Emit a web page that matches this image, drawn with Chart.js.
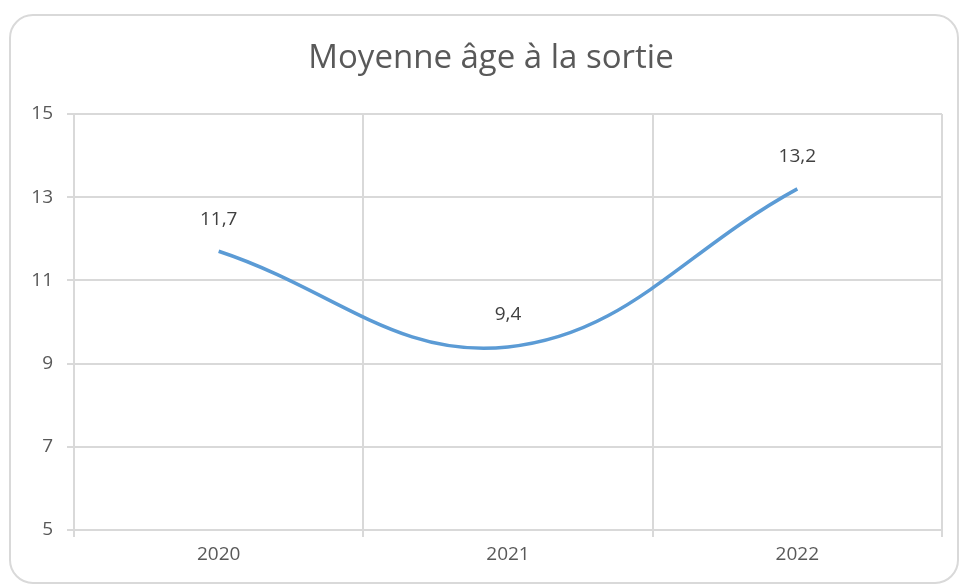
<!DOCTYPE html>
<html>
<head>
<meta charset="utf-8">
<script src="https://cdn.jsdelivr.net/npm/chart.js@4"></script>
<style>
  html, body { margin: 0; padding: 0; background: #fff; }
  #wrap { position: relative; width: 960px; height: 585px; overflow: hidden; }
  #frame {
    position: absolute; left: 9px; top: 14px; width: 946px; height: 566px;
    border: 2px solid #d9d9d9; border-radius: 24px;
  }
  canvas { position: absolute; left: 0; top: 0; }
</style>
</head>
<body>
<div id="wrap">
  <div id="frame"></div>
  <canvas id="chart" width="960" height="585"></canvas>
</div>
<script>
const years = ['2020', '2021', '2022'];
const ageMoyen = [11.7, 9.4, 13.2];
const yTicks = [5, 7, 9, 11, 13, 15];
const chartTitle = 'Moyenne âge à la sortie';

const fontFamily = '"Open Sans", sans-serif';
const gridColor = '#d9d9d9';
const textColor = '#595959';

// value above each point (French decimal comma) + title centred on the frame
const valueLabels = {
    id: 'valueLabels',
    afterDatasetsDraw(chart) {
        const ctx = chart.ctx;
        const meta = chart.getDatasetMeta(0);
        ctx.save();
        ctx.font = '19px ' + fontFamily;
        ctx.fillStyle = '#404040';
        ctx.textAlign = 'center';
        ctx.textBaseline = 'middle';
        meta.data.forEach((pt, i) => {
            const txt = String(ageMoyen[i]).replace('.', ',');
            ctx.fillText(txt, pt.x, pt.y - 32);
        });
        ctx.font = '33px ' + fontFamily;
        ctx.fillStyle = textColor;
        ctx.fillText(chartTitle, 491, 59);
        ctx.restore();
    }
};

new Chart(document.getElementById('chart'), {
    type: 'line',
    data: {
        labels: years,
        datasets: [{
            data: ageMoyen,
            borderColor: '#5b9bd5',
            borderWidth: 3.5,
            tension: 0.4,
            pointRadius: 0,
            fill: false
        }]
    },
    options: {
        responsive: false,
        animation: false,
        layout: { padding: { left: 0, right: 18, top: 114, bottom: 0 } },
        plugins: {
            legend: { display: false },
            tooltip: { enabled: false },
            title: { display: false }
        },
        scales: {
            x: {
                offset: true,
                grid: { offset: true, color: gridColor, lineWidth: 2, tickLength: 7 },
                border: { color: gridColor, width: 2 },
                ticks: { color: textColor, padding: 6, font: { family: fontFamily, size: 19 } },
                afterFit(scale) { scale.height = 55; }
            },
            y: {
                min: 5,
                max: 15,
                afterBuildTicks(scale) { scale.ticks = yTicks.map(v => ({ value: v })); },
                grid: { color: gridColor, lineWidth: 2, tickLength: 7 },
                border: { color: gridColor, width: 2 },
                ticks: { color: textColor, padding: 14, font: { family: fontFamily, size: 19 } },
                afterFit(scale) { scale.width = 74; }
            }
        }
    },
    plugins: [valueLabels]
});
</script>
</body>
</html>
